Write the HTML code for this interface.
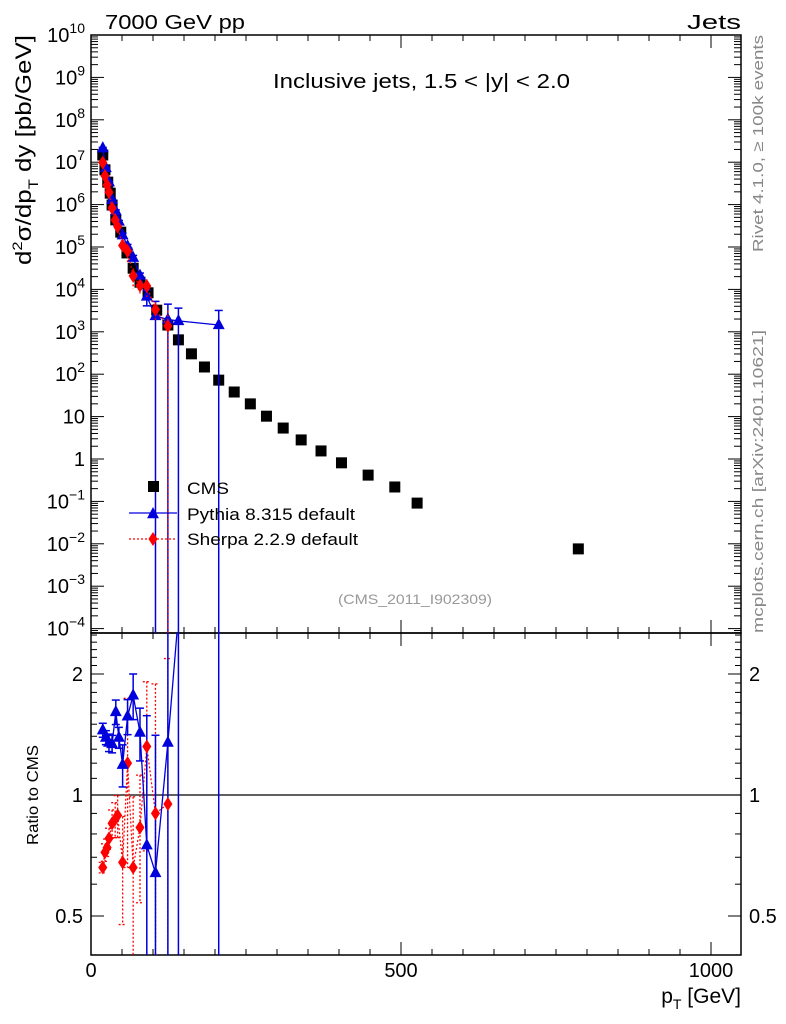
<!DOCTYPE html>
<html><head><meta charset="utf-8"><style>
html,body{margin:0;padding:0;background:#fff;}
svg{display:block;font-family:"Liberation Sans",sans-serif;}
</style></head><body>
<svg id="chart" width="786" height="1024" viewBox="0 0 786 1024" xmlns="http://www.w3.org/2000/svg">
<text x="105" y="29" font-size="20" textLength="140" lengthAdjust="spacingAndGlyphs">7000 GeV pp</text>
<text x="687" y="29" font-size="20" textLength="54" lengthAdjust="spacingAndGlyphs">Jets</text>
<text x="273" y="88" font-size="20" textLength="297" lengthAdjust="spacingAndGlyphs">Inclusive jets, 1.5 &lt; |y| &lt; 2.0</text>
<text transform="translate(763,252) rotate(-90)" font-size="15" fill="#888" textLength="217" lengthAdjust="spacingAndGlyphs">Rivet 4.1.0, ≥ 100k events</text>
<text transform="translate(763,633) rotate(-90)" font-size="15" fill="#888" textLength="303" lengthAdjust="spacingAndGlyphs">mcplots.cern.ch [arXiv:2401.10621]</text>
<text transform="translate(31,265) rotate(-90)" font-size="22" textLength="230" lengthAdjust="spacingAndGlyphs">d<tspan dy="-9" font-size="14">2</tspan><tspan dy="9">σ/dp</tspan><tspan dy="7" font-size="14">T</tspan><tspan dy="-7"> dy [pb/GeV]</tspan></text>
<text transform="translate(38,845) rotate(-90)" font-size="16" textLength="100" lengthAdjust="spacingAndGlyphs">Ratio to CMS</text>
<text x="741" y="1003" font-size="21" text-anchor="end">p<tspan dy="6" font-size="14">T</tspan><tspan dy="-6"> [GeV]</tspan></text>
<text x="338" y="604" font-size="14" fill="#999" textLength="154" lengthAdjust="spacingAndGlyphs">(CMS_2011_I902309)</text>
<g id="g"></g>
</svg>
<script>
const cmsPt=[19,22.5,27,31,34,40,48,58,68,79,92,106,124,141,162,183,206,231,257,283,310,339,371,404,447,490,526,786];
const cmsLog=[7.17,6.82,6.53,6.27,5.99,5.64,5.35,4.86,4.50,4.17,3.92,3.51,3.16,2.81,2.48,2.17,1.86,1.58,1.30,1.01,0.73,0.45,0.19,-0.09,-0.38,-0.66,-1.04,-2.12];
const pyPt=[19,24,29,34,40,45,51,59,68,79,90,104,124,141,206];
const pyRatio=[1.45,1.39,1.35,1.34,1.61,1.39,1.19,1.57,1.77,1.43,0.75,0.64,1.35,2.8,20];
const pyErr=[0.04,0.04,0.05,0.05,0.07,0.06,0.12,0.1,0.13,0.15,1.1,1.2,1.3,1.0,1.2];
const pyMainErr=[0.04,0.04,0.05,0.05,0.07,0.06,0.12,0.1,0.13,0.15,0.4,1.2,1.3,1.0,1.2];
const shPt=[19,22.5,26,29,34,39,43,51,59,68,79,90,104,124];
const shRatio=[0.66,0.72,0.74,0.78,0.85,0.87,0.89,0.68,1.20,0.66,0.83,1.32,0.90,0.95];
const shErr=[0.03,0.05,0.05,0.06,0.08,0.1,0.12,0.3,0.45,0.5,0.35,0.45,1.1,1.3];
const shMainErr=[0.03,0.05,0.05,0.06,0.08,0.1,0.12,0.3,0.45,0.5,0.35,0.45,0.5,1.3];
const yTickExp=[-4,-3,-2,-1,0,1,2,3,4,5,6,7,8,9,10];
const xTickVals=[0,500,1000];
const rTickVals=[0.5,1,2];

const NS="http://www.w3.org/2000/svg";
const G=document.getElementById('g');
const L=91,R=741,T=35,MB=633,RB=955;
const X=p=>L+p*0.62;
const Y=v=>459-42.4*Math.log10(v);
const YR=r=>795-121*Math.log2(r);
function mk(t,a,par){const e=document.createElementNS(NS,t);for(const k in a)e.setAttribute(k,a[k]);(par||G).appendChild(e);return e;}
function cmsAt(p){for(let i=0;i<cmsPt.length-1;i++){if(p<=cmsPt[i+1]){const f=(p-cmsPt[i])/(cmsPt[i+1]-cmsPt[i]);return Math.pow(10,cmsLog[i]+f*(cmsLog[i+1]-cmsLog[i]));}}return Math.pow(10,cmsLog[cmsLog.length-1]);}

const defs=mk('defs',{});
const c1=mk('clipPath',{id:'cm'},defs);mk('rect',{x:L,y:T,width:R-L,height:MB-T},c1);
const c2=mk('clipPath',{id:'cr'},defs);mk('rect',{x:L,y:MB,width:R-L,height:RB-MB},c2);

let f=mk('rect',{x:L,y:T,width:R-L,height:MB-T,fill:'none',stroke:'#000','stroke-width':1.5});


f=mk('rect',{x:L,y:MB,width:R-L,height:RB-MB,fill:'none',stroke:'#000','stroke-width':1.5});



yTickExp.forEach(e=>{
  const y=Y(Math.pow(10,e));
  mk('line',{x1:L,x2:L+13,y1:y,y2:y,stroke:'#000'});
  mk('line',{x1:R,x2:R-13,y1:y,y2:y,stroke:'#000'});
  if(e<10){for(let m=2;m<10;m++){const ym=Y(m*Math.pow(10,e));if(ym<T)continue;mk('line',{x1:L,x2:L+7,y1:ym,y2:ym,stroke:'#000'});mk('line',{x1:R,x2:R-7,y1:ym,y2:ym,stroke:'#000'});}}
  const t=mk('text',{x:L-6,y:y+7,'font-size':20,'text-anchor':'end'});
  
  
  if(e===0)t.textContent='1';else if(e===1)t.textContent='10';
  else{t.textContent='10';const s=mk('tspan',{dy:-9,'font-size':14},t);s.textContent=String(e).replace('-','−');}
});
for(let m=2;m<10;m++){const ym=Y(m*1e-5);if(ym<MB){mk('line',{x1:L,x2:L+7,y1:ym,y2:ym,stroke:'#000'});mk('line',{x1:R,x2:R-7,y1:ym,y2:ym,stroke:'#000'});}}

for(let p=0;p<=1050;p+=50){const x=X(p);if(x>R)break;const big=p%500===0;
  const h=big?13:6;
  mk('line',{x1:x,x2:x,y1:MB,y2:MB-h,stroke:'#000'});mk('line',{x1:x,x2:x,y1:T,y2:T+h,stroke:'#000'});
  mk('line',{x1:x,x2:x,y1:RB,y2:RB-h,stroke:'#000'});mk('line',{x1:x,x2:x,y1:MB,y2:MB+h,stroke:'#000'});}
xTickVals.forEach(p=>{const t=mk('text',{x:X(p),y:977,'font-size':20,'text-anchor':'middle'});t.textContent=p;
  
  });

const rMinor=[0.4,0.5,0.6,0.7,0.8,0.9,1,1.1,1.2,1.3,1.4,1.5,1.6,1.7,1.8,1.9,2,2.1,2.2,2.3,2.4,2.5];
rMinor.forEach(r=>{const y=YR(r);if(y<MB||y>RB)return;const big=rTickVals.includes(r);const h=big?13:6;
  mk('line',{x1:L,x2:L+h,y1:y,y2:y,stroke:'#000'});mk('line',{x1:R,x2:R-h,y1:y,y2:y,stroke:'#000'});});
rTickVals.forEach(r=>{const y=YR(r);
  let t=mk('text',{x:L-8,y:y+7,'font-size':20,'text-anchor':'end'});t.textContent=r;
  
  
  t=mk('text',{x:R+8,y:y+7,'font-size':20});t.textContent=r;
  
  });
const one=mk('line',{x1:L,x2:R,y1:YR(1),y2:YR(1),stroke:'#000','stroke-width':1.2});



const gm=mk('g',{'clip-path':'url(#cm)'});
const gr=mk('g',{'clip-path':'url(#cr)'});
function tri(x,y,par,s){return mk('polygon',{points:`${x},${y-s} ${x-s*0.85},${y+s*0.6} ${x+s*0.85},${y+s*0.6}`,fill:'#0000dd'},par);}
function dia(x,y,par,s){return mk('polygon',{points:`${x},${y-s} ${x+s*0.65},${y} ${x},${y+s} ${x-s*0.65},${y}`,fill:'#ff0000'},par);}

cmsPt.forEach((p,i)=>{const r=mk('rect',{x:X(p)-5.5,y:Y(Math.pow(10,cmsLog[i]))-5.5,width:11,height:11,fill:'#000'},gm);
  
  });

let pts=[];
pyPt.forEach((p,i)=>{const v=cmsAt(p)*pyRatio[i];const x=X(p),y=Y(v);pts.push(x+','+y);
  const lo=v*(1-pyMainErr[i]);const yl=lo>0?Y(lo):MB+5;const yh=Y(v*(1+pyMainErr[i]));
  mk('line',{x1:x,x2:x,y1:yh,y2:yl,stroke:'#0000dd','stroke-width':1.5},gm);
  mk('line',{x1:x-4,x2:x+4,y1:yh,y2:yh,stroke:'#0000dd','stroke-width':1.5},gm);
  if(lo>0)mk('line',{x1:x-4,x2:x+4,y1:yl,y2:yl,stroke:'#0000dd','stroke-width':1.5},gm);
});
let pl=mk('polyline',{points:pts.join(' '),fill:'none',stroke:'#0000dd','stroke-width':1.3},gm);


pyPt.forEach((p,i)=>{const t=tri(X(p),Y(cmsAt(p)*pyRatio[i]),gm,7);
  
  });

pts=[];
shPt.forEach((p,i)=>{const v=cmsAt(p)*shRatio[i];const x=X(p),y=Y(v);pts.push(x+','+y);
  const lo=v*(1-shMainErr[i]);const yl=lo>0?Y(lo):MB+5;const yh=Y(v*(1+shMainErr[i]));
  mk('line',{x1:x,x2:x,y1:yh,y2:yl,stroke:'#ff0000','stroke-width':1.3,'stroke-dasharray':'2,2'},gm);
});
pl=mk('polyline',{points:pts.join(' '),fill:'none',stroke:'#ff0000','stroke-width':1.2,'stroke-dasharray':'2,2'},gm);


shPt.forEach((p,i)=>{const d=dia(X(p),Y(cmsAt(p)*shRatio[i]),gm,7);
  
  });

pts=[];
shPt.forEach((p,i)=>{const r=shRatio[i],x=X(p);pts.push(x+','+YR(r));
  const lo=r*(1-shErr[i]);const yl=lo>0?YR(lo):RB+5;const yh=YR(r*(1+shErr[i]));
  mk('line',{x1:x,x2:x,y1:yh,y2:yl,stroke:'#ff0000','stroke-width':1.3,'stroke-dasharray':'2,2'},gr);
  mk('line',{x1:x-4,x2:x+4,y1:yh,y2:yh,stroke:'#ff0000','stroke-width':1.3,'stroke-dasharray':'2,2'},gr);
  if(lo>0)mk('line',{x1:x-4,x2:x+4,y1:yl,y2:yl,stroke:'#ff0000','stroke-width':1.3,'stroke-dasharray':'2,2'},gr);
});
pl=mk('polyline',{points:pts.join(' '),fill:'none',stroke:'#ff0000','stroke-width':1.2,'stroke-dasharray':'2,2'},gr);


pts=[];
pyPt.forEach((p,i)=>{const r=pyRatio[i],x=X(p);pts.push(x+','+YR(r));
  const lo=r*(1-pyErr[i]);const yl=lo>0?YR(lo):RB+5;const yh=YR(r*(1+pyErr[i]));
  mk('line',{x1:x,x2:x,y1:yh,y2:yl,stroke:'#0000dd','stroke-width':1.5},gr);
  mk('line',{x1:x-4,x2:x+4,y1:yh,y2:yh,stroke:'#0000dd','stroke-width':1.5},gr);
  if(lo>0)mk('line',{x1:x-4,x2:x+4,y1:yl,y2:yl,stroke:'#0000dd','stroke-width':1.5},gr);
});
pl=mk('polyline',{points:pts.join(' '),fill:'none',stroke:'#0000dd','stroke-width':1.3},gr);


shPt.forEach((p,i)=>{const d=dia(X(p),YR(shRatio[i]),gr,7);
  
  });
pyPt.forEach((p,i)=>{const t=tri(X(p),YR(pyRatio[i]),gr,7);
  
  });

const lg=mk('g',{});


mk('rect',{x:148,y:481,width:11,height:11,fill:'#000'},lg);
let t=mk('text',{x:187,y:494,'font-size':17,textLength:42,lengthAdjust:'spacingAndGlyphs'},lg);t.textContent='CMS';
mk('line',{x1:129,x2:177,y1:513,y2:513,stroke:'#0000dd','stroke-width':1.3},lg);
tri(153,514,lg,7);
t=mk('text',{x:187,y:520,'font-size':17,textLength:168,lengthAdjust:'spacingAndGlyphs'},lg);t.textContent='Pythia 8.315 default';
mk('line',{x1:129,x2:177,y1:539,y2:539,stroke:'#ff0000','stroke-width':1.2,'stroke-dasharray':'2,2'},lg);
dia(153,539,lg,7);
t=mk('text',{x:187,y:545,'font-size':17,textLength:171,lengthAdjust:'spacingAndGlyphs'},lg);t.textContent='Sherpa 2.2.9 default';
</script>
</body></html>
